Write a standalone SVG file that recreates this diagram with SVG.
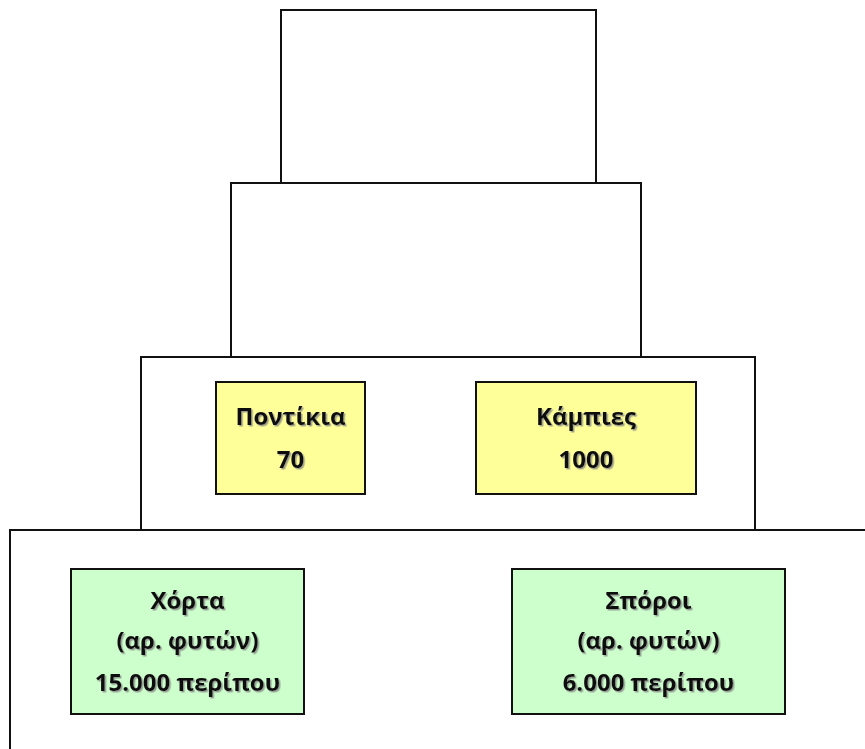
<svg xmlns="http://www.w3.org/2000/svg" width="865" height="749" viewBox="0 0 865 749">
<style>
.lvl{fill:#fff;stroke:#111;stroke-width:2}
.y{fill:#FFFF99;stroke:#111;stroke-width:2}
.g{fill:#CCFFCC;stroke:#111;stroke-width:2}
text{font-family:"Open Sans","Noto Sans",sans-serif;font-weight:bold;fill:#111;text-anchor:middle;filter:url(#sh)}
.t1{font-size:24px}
.t2{font-size:24px}
</style>
<defs>
<filter id="sh" x="-10%" y="-30%" width="120%" height="160%">
<feDropShadow dx="1.5" dy="1.5" stdDeviation="0.6" flood-color="#888" flood-opacity="0.8"/>
</filter>
</defs>
<g id="level4"><rect class="lvl" x="281" y="10" width="315" height="173"/></g>
<g id="level3"><rect class="lvl" x="231" y="183" width="410" height="174"/></g>
<g id="level2"><rect class="lvl" x="141" y="357" width="614" height="173"/></g>
<g id="level1"><rect class="lvl" x="10" y="530" width="870" height="240"/></g>
<g id="pontikia"><rect class="y" x="216" y="382" width="149" height="112"/>
<text class="t1" x="290.5" y="425">Ποντίκια</text><text class="t1" x="290.5" y="468">70</text></g>
<g id="kampies"><rect class="y" x="476" y="382" width="220" height="112"/>
<text class="t1" x="586" y="425">Κάμπιες</text><text class="t1" x="586" y="468">1000</text></g>
<g id="chorta"><rect class="g" x="71" y="569" width="233" height="145"/>
<text class="t2" x="187.5" y="609">Χόρτα</text><text class="t2" x="187.5" y="649">(αρ. φυτών)</text><text class="t2" x="187.5" y="691">15.000 περίπου</text></g>
<g id="sporoi"><rect class="g" x="512" y="569" width="273" height="145"/>
<text class="t2" x="648.5" y="609">Σπόροι</text><text class="t2" x="648.5" y="649">(αρ. φυτών)</text><text class="t2" x="648.5" y="691">6.000 περίπου</text></g>
<g id="connectors"></g>
</svg>
